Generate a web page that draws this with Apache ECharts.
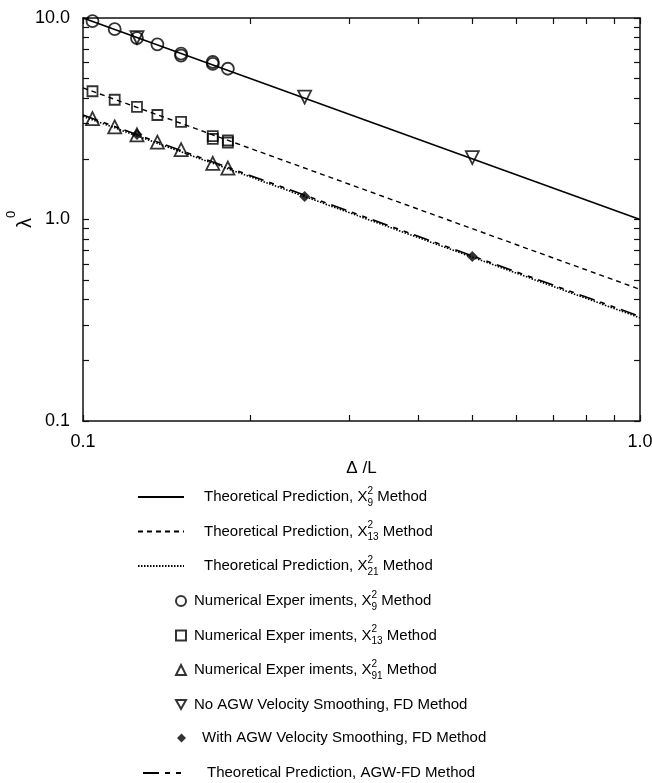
<!DOCTYPE html>
<html>
<head>
<meta charset="utf-8">
<script src="https://cdn.jsdelivr.net/npm/echarts@6/dist/echarts.min.js"></script>
<style>
  html, body { margin: 0; padding: 0; background: #fff; }
  #chart { width: 652px; height: 783px; }
</style>
</head>
<body>
<div id="chart"></div>
<script>
// 理论预测线 (log-log 直线, 两端点即可)
const theoryX = [0.1, 1.0];
const theoryX9 = [10.0, 1.0];
const theoryX13 = [4.5, 0.45];
const theoryX21 = [3.25, 0.325];
const theoryAgwFd = [3.3, 0.33];

// 数值实验
const circleX = [0.104, 0.114, 0.125, 0.136, 0.150, 0.150, 0.171, 0.171, 0.182];
const circleY = [9.65, 8.8, 7.95, 7.4, 6.65, 6.5, 6.05, 5.92, 5.6];
const squareX = [0.104, 0.114, 0.125, 0.136, 0.150, 0.171, 0.171, 0.182, 0.182];
const squareY = [4.33, 3.93, 3.62, 3.3, 3.05, 2.59, 2.51, 2.47, 2.41];
const triangleX = [0.104, 0.114, 0.125, 0.136, 0.150, 0.171, 0.182];
const triangleY = [3.17, 2.88, 2.63, 2.42, 2.22, 1.9, 1.8];

// FD 方法
const fdX = [0.125, 0.25, 0.5];
const noSmoothY = [8.0, 4.05, 2.03];
const withSmoothY = [2.64, 1.3, 0.656];

// 坐标轴刻度
const xTicks = [0.1, 0.2, 0.3, 0.4, 0.5, 0.6, 0.7, 0.8, 0.9, 1.0];
const xLabels = [0.1, 1.0];
const yTicks = [0.1, 0.2, 0.3, 0.4, 0.5, 0.6, 0.7, 0.8, 0.9, 1, 2, 3, 4, 5, 6, 7, 8, 9, 10];
const yLabels = [0.1, 1.0, 10.0];

const FONT = '"Liberation Sans", Arial, Helvetica, sans-serif';
const BLACK = '#111';
const DOWN_TRIANGLE = 'path://M0,0L10,0L5,9Z';

const zip = (xs, ys) => xs.map((x, i) => [x, ys[i]]);
const xLabel = (pre, sub, post) => pre + '{x|X}{sup|2}{sub|' + sub + '}' + post;

const names = {
  t9: 'Theoretical Prediction, X9 Method',
  t13: 'Theoretical Prediction, X13 Method',
  t21: 'Theoretical Prediction, X21 Method',
  n9: 'Numerical Experiments, X9 Method',
  n13: 'Numerical Experiments, X13 Method',
  n91: 'Numerical Experiments, X91 Method',
  noAgw: 'No AGW Velocity Smoothing, FD Method',
  withAgw: 'With AGW Velocity Smoothing, FD Method',
  agwFd: 'Theoretical Prediction, AGW-FD Method',
};
const legendText = {};
legendText[names.t9] = xLabel('Theoretical Prediction, ', '9', ' Method');
legendText[names.t13] = xLabel('Theoretical Prediction, ', '13', ' Method');
legendText[names.t21] = xLabel('Theoretical Prediction, ', '21', ' Method');
legendText[names.n9] = xLabel('Numerical Exper iments, ', '9', ' Method');
legendText[names.n13] = xLabel('Numerical Exper iments, ', '13', ' Method');
legendText[names.n91] = xLabel('Numerical Exper iments, ', '91', ' Method');
legendText[names.noAgw] = names.noAgw;
legendText[names.withAgw] = names.withAgw;
legendText[names.agwFd] = names.agwFd;

const rich = {
  x: { fontFamily: FONT, fontSize: 15, color: '#000', lineHeight: 22 },
  sup: { fontFamily: FONT, fontSize: 10, color: '#000', lineHeight: 12, verticalAlign: 'top', width: 0 },
  sub: { fontFamily: FONT, fontSize: 10, color: '#000', lineHeight: 12, verticalAlign: 'bottom' },
};

const legendBlock = (data, left, top, w, h, pad) => ({
  data,
  orient: 'vertical',
  left,
  top,
  padding: 0,
  itemWidth: w,
  itemHeight: h,
  itemGap: 12.5,
  selectedMode: false,
  formatter: (n) => legendText[n],
  textStyle: {
    fontFamily: FONT,
    fontSize: 15,
    color: '#000',
    lineHeight: 22,
    padding: [0, 0, 0, pad],
    rich,
  },
});

const axisLineStyle = { color: BLACK, width: 1.5 };
const tickFmt = (v) => Number(v).toFixed(1);

const makeX = (pos, show) => ({
  type: 'log',
  logBase: 10,
  min: 0.1,
  max: 1,
  position: pos,
  name: show ? 'Δ /L' : '',
  nameLocation: 'middle',
  nameGap: 39,
  nameTextStyle: { fontFamily: FONT, fontSize: 17, color: '#000' },
  axisLine: { show: true, lineStyle: axisLineStyle },
  axisTick: { show: true, inside: true, length: 6, customValues: xTicks, lineStyle: { color: BLACK, width: 1.2 } },
  axisLabel: { show, customValues: xLabels, formatter: tickFmt, margin: 12, fontFamily: FONT, fontSize: 18, color: '#000' },
  splitLine: { show: false },
});

const makeY = (pos, show) => ({
  type: 'log',
  logBase: 10,
  min: 0.1,
  max: 10,
  position: pos,
  name: show ? '{l|λ}{s|0}' : '',
  nameLocation: 'middle',
  nameRotate: 90,
  nameGap: 38,
  nameMoveOverlap: false,
  nameTextStyle: {
    rich: {
      l: { fontFamily: FONT, fontSize: 20, color: '#000', lineHeight: 40 },
      s: { fontFamily: FONT, fontSize: 13, color: '#000', lineHeight: 14, verticalAlign: 'top' },
    },
  },
  axisLine: { show: true, lineStyle: axisLineStyle },
  axisTick: { show: true, inside: true, length: 6, customValues: yTicks, lineStyle: { color: BLACK, width: 1.2 } },
  axisLabel: { show, customValues: yLabels, formatter: tickFmt, margin: 13, fontFamily: FONT, fontSize: 18, color: '#000' },
  splitLine: { show: false },
});

const lineSeries = (name, ys, type, width) => ({
  name,
  type: 'line',
  data: zip(theoryX, ys),
  symbol: 'none',
  silent: true,
  z: 2,
  itemStyle: { color: 'rgba(0,0,0,0)', borderWidth: 0 },
  lineStyle: { color: '#000', width, type },
});

const hollow = { color: 'rgba(255,255,255,0)', borderColor: '#000', borderWidth: 1.8 };
const scatterSeries = (name, xs, ys, symbol, size, itemStyle, rotate) => ({
  name,
  type: 'scatter',
  data: zip(xs, ys),
  symbol,
  symbolSize: size,
  symbolRotate: rotate || 0,
  silent: true,
  z: 3,
  itemStyle,
});

const chart = echarts.init(document.getElementById('chart'), null, { renderer: 'canvas' });
chart.setOption({
  animation: false,
  backgroundColor: '#fff',
  grid: { left: 83, right: 12, top: 18, bottom: 362, containLabel: false, outerBoundsMode: 'none' },
  xAxis: [makeX('bottom', true), makeX('top', false)],
  yAxis: [makeY('left', true), makeY('right', false)],
  legend: [
    legendBlock([names.t9, names.t13, names.t21], 137, 486, 46, 22, 15),
    legendBlock([names.n9, names.n13, names.n91, { name: names.noAgw, icon: DOWN_TRIANGLE }], 175, 590, 10, 10, 3),
    legendBlock([names.withAgw], 177, 727, 9, 9, 11),
    legendBlock([names.agwFd], 142, 762, 41, 22, 18),
  ],
  series: [
    lineSeries(names.t9, theoryX9, 'solid', 1.6),
    lineSeries(names.t13, theoryX13, [5, 4], 1.4),
    lineSeries(names.t21, theoryX21, [1.5, 1.5], 1.6),
    lineSeries(names.agwFd, theoryAgwFd, [16, 6, 5, 6, 5, 6], 1.6),
    scatterSeries(names.n9, circleX, circleY, 'circle', 12, hollow),
    scatterSeries(names.n13, squareX, squareY, 'rect', 10, hollow),
    scatterSeries(names.n91, triangleX, triangleY, 'triangle', 13, hollow),
    scatterSeries(names.noAgw, fdX, noSmoothY, 'triangle', 13, hollow, 180),
    scatterSeries(names.withAgw, fdX, withSmoothY, 'diamond', 11, { color: '#000' }),
  ],
});
</script>
</body>
</html>
